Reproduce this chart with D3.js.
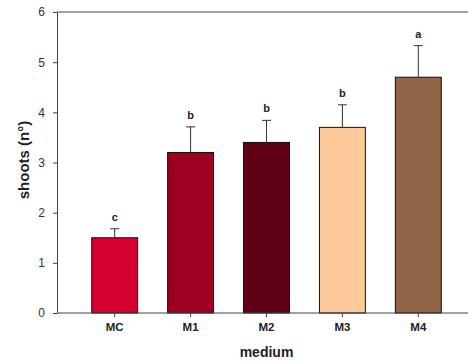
<!DOCTYPE html>
<head>
    <script src="https://d3js.org/d3.v7.min.js"></script>
    <style>
        body { margin: 0; background: white; }
        text { font-family: "Liberation Sans", Arial, sans-serif; }
    </style>
</head>
<body>
<svg class="chart" width="468" height="361"></svg>
<script>
    // data
    const categories = ["MC", "M1", "M2", "M3", "M4"];
    const means = [1.5, 3.2, 3.4, 3.7, 4.7];
    const errors = [0.18, 0.51, 0.44, 0.45, 0.63];
    const letters = ["c", "b", "b", "b", "a"];
    const colors = ["#d4002e", "#9e0022", "#600017", "#fec99b", "#90654a"];
    const yTicks = [0, 1, 2, 3, 4, 5, 6];

    const margin = {top: 12, left: 57, bottom: 48},
        width = 468, height = 361;

    const svg = d3.select(".chart");

    const x = d3.scaleBand()
        .domain(categories)
        .range([margin.left, 476])
        .paddingInner(0.395)
        .paddingOuter(0.4575);

    const y = d3.scaleLinear()
        .domain([0, 6])
        .range([height - margin.bottom, margin.top]);

    // top frame line
    svg.append("line")
        .attr("x1", margin.left).attr("x2", width)
        .attr("y1", y(6)).attr("y2", y(6))
        .attr("stroke", "#444").attr("stroke-width", 1);

    // bars
    svg.append("g")
        .selectAll("rect")
        .data(categories)
        .enter()
        .append("rect")
        .attr("x", d => x(d))
        .attr("width", x.bandwidth())
        .attr("y", (d, i) => y(means[i]))
        .attr("height", (d, i) => y(0) - y(means[i]))
        .attr("fill", (d, i) => colors[i])
        .attr("stroke", "#111")
        .attr("stroke-width", 1);

    // error bars
    const err = svg.append("g")
        .selectAll("g")
        .data(categories)
        .enter()
        .append("g");
    err.append("line")
        .attr("x1", d => x(d) + x.bandwidth() / 2)
        .attr("x2", d => x(d) + x.bandwidth() / 2)
        .attr("y1", (d, i) => y(means[i]))
        .attr("y2", (d, i) => y(means[i] + errors[i]))
        .attr("stroke", "#333");
    err.append("line")
        .attr("x1", d => x(d) + x.bandwidth() / 2 - 4.5)
        .attr("x2", d => x(d) + x.bandwidth() / 2 + 4.5)
        .attr("y1", (d, i) => y(means[i] + errors[i]))
        .attr("y2", (d, i) => y(means[i] + errors[i]))
        .attr("stroke", "#333");
    err.append("text")
        .attr("x", d => x(d) + x.bandwidth() / 2)
        .attr("y", (d, i) => y(means[i] + errors[i]) - 8)
        .attr("text-anchor", "middle")
        .style("font-size", "11px")
        .style("font-weight", "bold")
        .attr("fill", "#222")
        .text((d, i) => letters[i]);

    // y axis
    const yAxis = svg.append("g")
        .attr("transform", "translate(" + margin.left + ",0)")
        .call(d3.axisLeft(y).tickValues(yTicks).tickFormat(d3.format("d"))
            .tickSize(4).tickPadding(8).tickSizeOuter(0));
    yAxis.select(".domain").attr("stroke", "#444");
    yAxis.selectAll(".tick line").attr("stroke", "#444");
    yAxis.selectAll(".tick text")
        .style("font-size", "12px")
        .style("font-family", "'Liberation Sans', Arial, sans-serif")
        .attr("fill", "#333");

    // x axis
    const xAxis = svg.append("g")
        .attr("transform", "translate(0," + y(0) + ")")
        .call(d3.axisBottom(x).tickSize(4).tickPadding(6).tickSizeOuter(0));
    xAxis.select(".domain").attr("d", "M" + margin.left + ",0H" + width).attr("stroke", "#444");
    xAxis.selectAll(".tick line").attr("stroke", "#444");
    xAxis.selectAll(".tick text")
        .style("font-size", "11.5px")
        .style("font-weight", "bold")
        .style("font-family", "'Liberation Sans', Arial, sans-serif")
        .attr("fill", "#222");

    // axis titles
    svg.append("text")
        .attr("x", 266.5)
        .attr("y", 357)
        .attr("text-anchor", "middle")
        .style("font-size", "14px")
        .style("font-weight", "bold")
        .attr("fill", "#222")
        .text("medium");

    svg.append("text")
        .attr("transform", "translate(29,160) rotate(-90)")
        .attr("text-anchor", "middle")
        .style("font-size", "15px")
        .style("font-weight", "bold")
        .attr("fill", "#222")
        .text("shoots (n°)");
</script>
</body>
